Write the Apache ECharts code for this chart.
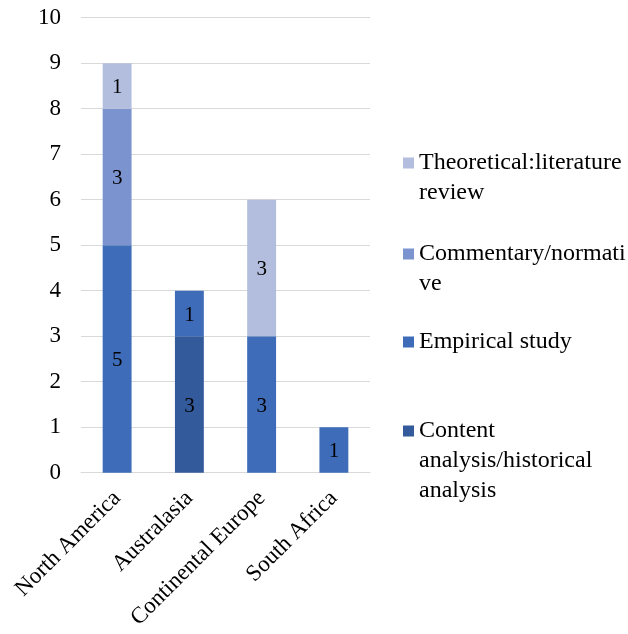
<!DOCTYPE html>
<html>
<head>
<meta charset="utf-8">
<script src="https://cdn.jsdelivr.net/npm/echarts@6/dist/echarts.min.js"></script>
<style>html,body{margin:0;padding:0;background:#fff}#c{width:628px;height:634px}</style>
</head>
<body>
<div id="c"></div>
<script>
const categories = ['North America', 'Australasia', 'Continental Europe', 'South Africa'];
const seriesNames = ['Content analysis/historical analysis', 'Empirical study', 'Commentary/normative', 'Theoretical:literature review'];
const legendLabels = ['Content\nanalysis/historical\nanalysis', 'Empirical study', 'Commentary/normati\nve', 'Theoretical:literature\nreview'];
const contentAnalysis = [null, 3, null, null];
const empiricalStudy = [5, 1, 3, 1];
const commentary = [3, null, null, null];
const theoretical = [1, null, 3, null];
const yTicks = [0, 1, 2, 3, 4, 5, 6, 7, 8, 9, 10];

const colors = ['#335A9B', '#3F6CB9', '#7B93CE', '#B3BEDF'];
const values = [contentAnalysis, empiricalStudy, commentary, theoretical];
const FONT = 'Liberation Serif';

const chart = echarts.init(document.getElementById('c'), null, {renderer: 'canvas'});

function tallIcon(h) {
  return 'path://M0,0h11v11h-11z M0,' + (h - 0.1) + 'h0.1v0.1h-0.1z';
}
const legendTops = [416, 327, 239, 148];
const iconH = [71, 11, 41, 41];

const legends = seriesNames.map((n, i) => ({
  data: [{name: n, icon: iconH[i] === 11 ? 'rect' : tallIcon(iconH[i])}],
  left: 403,
  top: legendTops[i],
  padding: 0,
  orient: 'vertical',
  itemWidth: 11,
  itemHeight: iconH[i],
  itemGap: 0,
  selectedMode: false,
  formatter: () => legendLabels[i],
  textStyle: {fontFamily: FONT, fontSize: 24, color: '#000', lineHeight: 30}
}));

chart.setOption({
  animation: false,
  color: colors,
  grid: {left: 81, right: 258, top: 17.7, bottom: 161.3, containLabel: false},
  legend: legends,
  xAxis: {
    type: 'category',
    data: categories,
    axisLine: {show: true, lineStyle: {color: '#D9D9D9', width: 1}},
    axisTick: {show: false},
    axisLabel: {rotate: 45, interval: 0, margin: 22, fontFamily: FONT, fontSize: 23, color: '#000'}
  },
  yAxis: {
    type: 'value',
    min: yTicks[0],
    max: yTicks[yTicks.length - 1],
    interval: 1,
    axisLine: {show: false},
    axisTick: {show: false},
    splitLine: {lineStyle: {color: '#D9D9D9', width: 1}},
    axisLabel: {margin: 20, fontFamily: FONT, fontSize: 23, color: '#000'}
  },
  series: seriesNames.map((n, i) => ({
    name: n,
    type: 'bar',
    stack: 'total',
    barWidth: '40%',
    data: values[i],
    itemStyle: {color: colors[i]},
    label: {show: true, position: 'inside', fontFamily: FONT, fontSize: 21, color: '#000', offset: [0, 2],
      formatter: p => (p.value == null ? '' : String(p.value))}
  }))
});
</script>
</body>
</html>
